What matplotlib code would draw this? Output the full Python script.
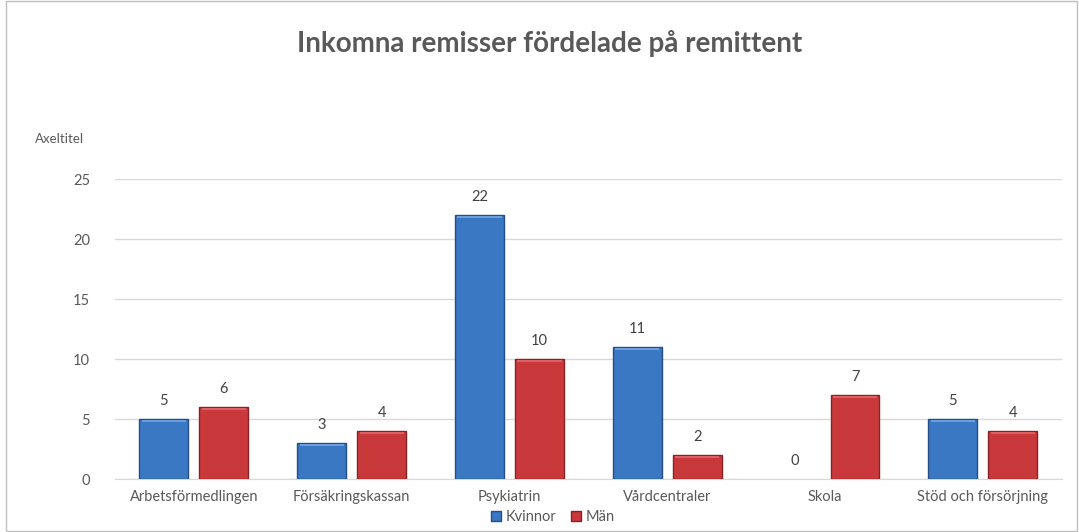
import matplotlib
matplotlib.use("Agg")
from matplotlib import pyplot as plt
from matplotlib.patches import Rectangle
import numpy as np

categories = ["Arbetsförmedlingen", "Försäkringskassan", "Psykiatrin",
              "Vårdcentraler", "Skola", "Stöd och försörjning"]
kvinnor = [5, 3, 22, 11, 0, 5]
man = [6, 4, 10, 2, 7, 4]
yticks = [0, 5, 10, 15, 20, 25]

plt.rcParams['font.family'] = ['Lato', 'DejaVu Sans']
gray = '#595959'

fig = plt.figure(figsize=(10.79, 5.32), dpi=100)
ax = fig.add_axes([0.1066, 0.0996, 0.8774, 0.5639])

x = np.arange(len(categories))
w = 0.31
off = 0.19
b1 = ax.bar(x - off, kvinnor, w, color='#3B78C3', edgecolor='#244E85', linewidth=1.0,
            label='Kvinnor', zorder=3)
b2 = ax.bar(x + off, man, w, color='#C9393B', edgecolor='#8A2224', linewidth=1.0,
            label='Män', zorder=3)

# light bevel stripe at the top of each bar, hide empty bars
for bars, col in [(b1, '#6A9FDF'), (b2, '#DF6061')]:
    for r in bars:
        h = r.get_height()
        if h > 0:
            ax.add_patch(Rectangle((r.get_x() + 0.015, h - 0.28), r.get_width() - 0.03, 0.2,
                                   color=col, zorder=4, lw=0))
        else:
            r.set_linewidth(0)

for bars, vals in [(b1, kvinnor), (b2, man)]:
    for r, v in zip(bars, vals):
        ax.annotate(str(v), (r.get_x() + r.get_width() / 2, v), xytext=(0, 8),
                    textcoords='offset points', ha='center', va='bottom',
                    fontsize=10.5, color='#404040')

ax.set_xlim(-0.5, len(categories) - 0.5)
ax.set_ylim(0, 25)
ax.set_yticks(yticks)
ax.set_xticks(x)
ax.set_xticklabels(categories)
ax.tick_params(axis='both', length=0, labelsize=10.5, labelcolor=gray)
ax.tick_params(axis='y', pad=18)
ax.tick_params(axis='x', pad=8)
ax.grid(axis='y', color='#D9D9D9', linewidth=1.0, zorder=0)
for s in ['top', 'right', 'left']:
    ax.spines[s].set_visible(False)
ax.spines['bottom'].set_color('#D9D9D9')

fig.text(0.509, 0.918, "Inkomna remisser fördelade på remittent", ha='center', va='center',
         fontsize=20, fontweight='bold', color=gray)
fig.text(0.032, 0.738, "Axeltitel", ha='left', va='center', fontsize=9.5, color=gray)

fig.legend(handles=[b1, b2], loc='center', bbox_to_anchor=(0.512, 0.028), ncol=2,
           frameon=False, fontsize=10.5, handlelength=0.7, handleheight=0.7,
           handletextpad=0.3, columnspacing=1.0, labelcolor=gray)

fig.add_artist(Rectangle((0.006, 0.002), 0.992, 0.996, transform=fig.transFigure,
                         fill=False, edgecolor='#BFBFBF', linewidth=1.0))

fig.savefig('out.png', dpi=100)
